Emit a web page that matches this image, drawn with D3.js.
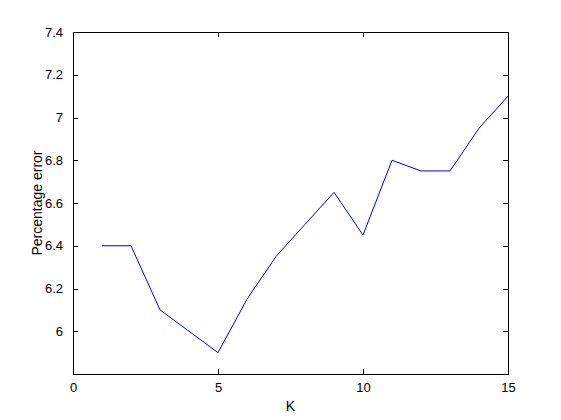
<!DOCTYPE html>
<html>
<head>
<meta charset="utf-8">
<script src="https://cdn.jsdelivr.net/npm/d3@7"></script>
<style>
  body { margin: 0; background: #fff; }
  text { font-family: "Liberation Sans", Arial, sans-serif; font-size: 13px; fill: #000; }
</style>
</head>
<body>
<div id="chart"></div>
<script>
var kValues = [1, 2, 3, 4, 5, 6, 7, 8, 9, 10, 11, 12, 13, 14, 15];
var errValues = [6.4, 6.4, 6.1, 6.0, 5.9, 6.15, 6.35, 6.5, 6.65, 6.45, 6.8, 6.75, 6.75, 6.95, 7.1];
var xTicks = [0, 5, 10, 15];
var yTicks = [6, 6.2, 6.4, 6.6, 6.8, 7, 7.2, 7.4];

var width = 561, height = 420;
var margin = {left: 73, right: 53, top: 32, bottom: 46};

var svg = d3.select("#chart").append("svg")
    .attr("width", width)
    .attr("height", height);

var x = d3.scaleLinear().domain([0, 15]).range([margin.left, width - margin.right]);
var y = d3.scaleLinear().domain([5.8, 7.4]).range([height - margin.bottom, margin.top]);

var fmt = function(d){ return String(d); };

// ticks inside on all four sides (box on)
var tickLen = 5;
function axis(gen, tr){
  var g = svg.append("g").attr("transform", tr).call(gen);
  g.select(".domain").remove();
  g.selectAll("line").attr("stroke", "#000").attr("shape-rendering", "crispEdges");
  return g;
}
var bottom = axis(d3.axisBottom(x).tickValues(xTicks).tickFormat(fmt).tickSizeInner(-tickLen).tickPadding(9),
  "translate(0," + y.range()[0] + ")");
bottom.selectAll("text").style("font-size", "13px").attr("fill", "#000");
axis(d3.axisTop(x).tickValues(xTicks).tickFormat("").tickSizeInner(-tickLen),
  "translate(0," + y.range()[1] + ")");
var left = axis(d3.axisLeft(y).tickValues(yTicks).tickFormat(fmt).tickSizeInner(-tickLen).tickPadding(10),
  "translate(" + x.range()[0] + ",0)");
left.selectAll("text").style("font-size", "13px").attr("fill", "#000");
axis(d3.axisRight(y).tickValues(yTicks).tickFormat("").tickSizeInner(-tickLen),
  "translate(" + x.range()[1] + ",0)");

svg.append("rect")
    .attr("x", x.range()[0]).attr("y", y.range()[1])
    .attr("width", x.range()[1] - x.range()[0])
    .attr("height", y.range()[0] - y.range()[1])
    .attr("fill", "none").attr("stroke", "#000")
    .attr("shape-rendering", "crispEdges");

var line = d3.line()
    .x(function(d, i){ return x(kValues[i]); })
    .y(function(d){ return y(d); });

svg.append("path")
    .datum(errValues)
    .attr("d", line)
    .attr("fill", "none")
    .attr("stroke", "#0000e0")
    .attr("stroke-width", 1);

svg.append("text")
    .attr("x", (x.range()[0] + x.range()[1]) / 2)
    .attr("y", 411)
    .attr("text-anchor", "middle")
    .style("font-size", "14px")
    .text("K");

svg.append("text")
    .attr("transform", "translate(42," + ((y.range()[0] + y.range()[1]) / 2) + ") rotate(-90)")
    .attr("text-anchor", "middle")
    .style("font-size", "14px")
    .text("Percentage error");
</script>
</body>
</html>
